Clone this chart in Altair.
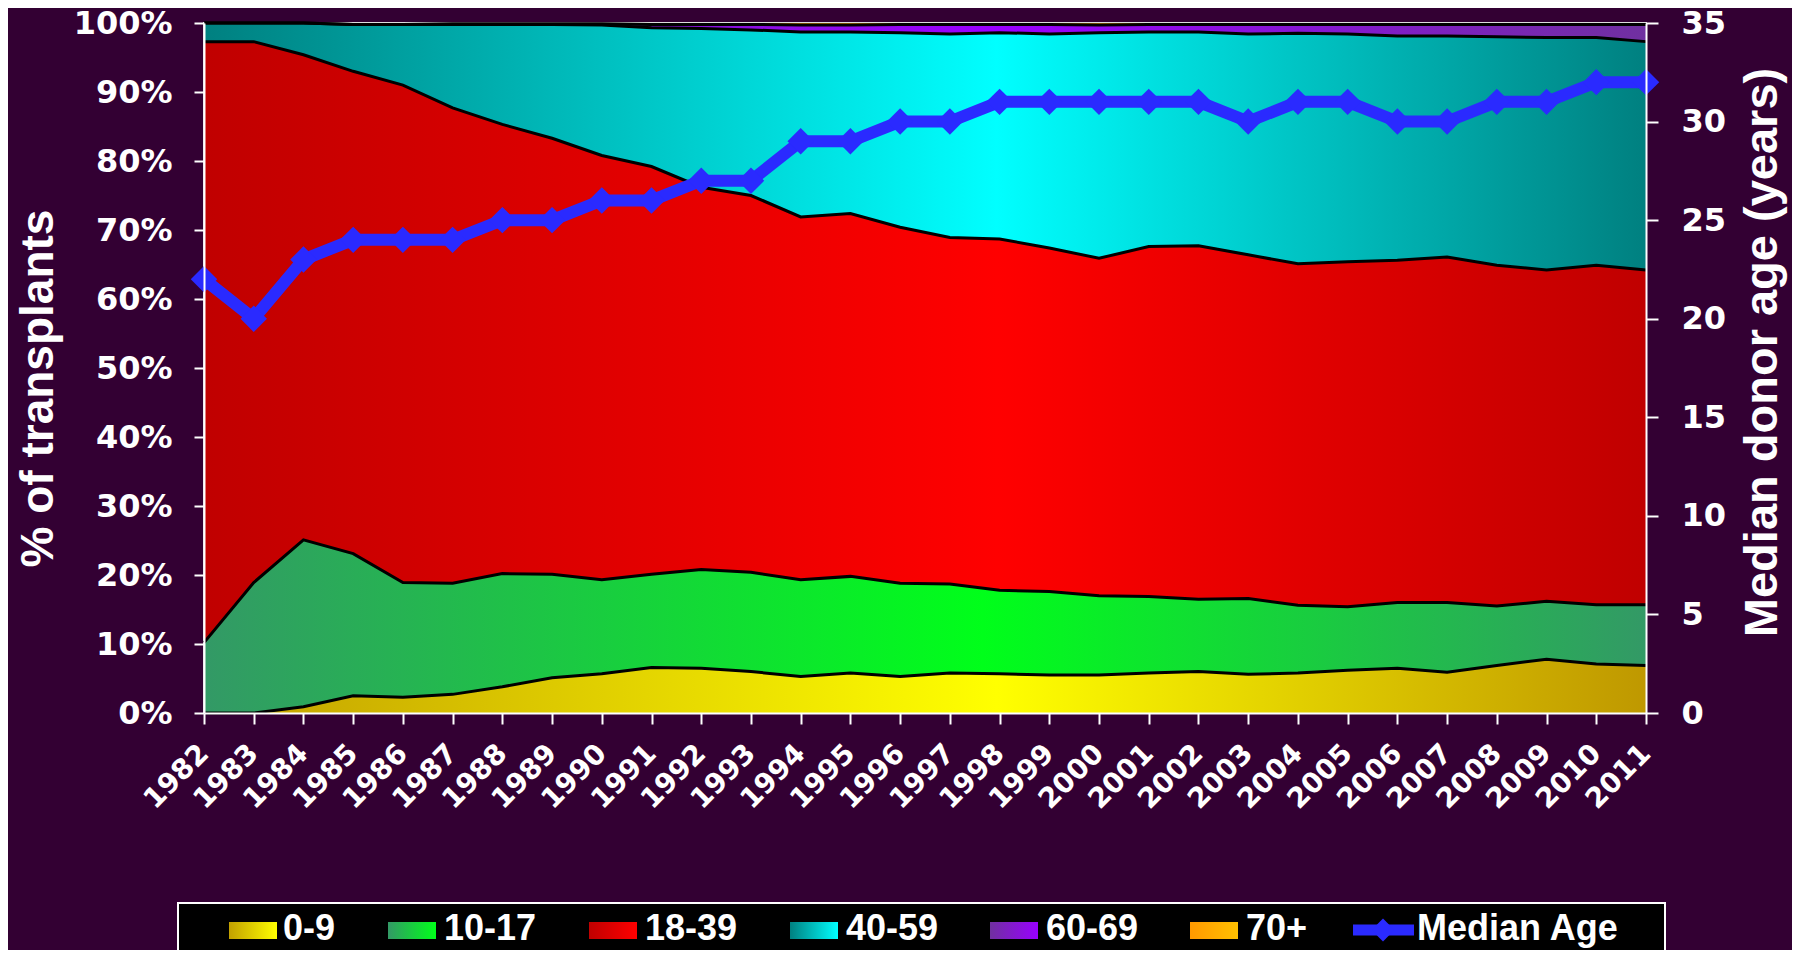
import altair as alt
import pandas as pd

years = list(range(1982, 2012))
age_groups = ["0-9", "10-17", "18-39", "40-59", "60-69", "70+"]

pct_0_9 = [0.0, 0.0, 0.9, 2.5, 2.3, 2.7, 3.8, 5.1, 5.7, 6.6, 6.5, 6.0, 5.3, 5.8, 5.3,
           5.8, 5.7, 5.5, 5.5, 5.8, 6.0, 5.6, 5.8, 6.2, 6.5, 5.9, 6.9, 7.8, 7.1, 6.9]
pct_10_17 = [10.2, 18.9, 24.2, 20.6, 16.6, 16.1, 16.4, 15.0, 13.6, 13.5, 14.3, 14.4, 14.0, 14.0, 13.5,
             12.9, 12.1, 12.1, 11.5, 11.1, 10.5, 11.0, 9.8, 9.2, 9.5, 10.1, 8.6, 8.4, 8.6, 8.8]
pct_18_39 = [87.1, 78.4, 70.3, 69.9, 72.1, 68.9, 65.1, 63.2, 61.5, 59.1, 55.4, 54.6, 52.6, 52.6, 51.6,
             50.2, 50.9, 49.8, 48.9, 50.7, 51.2, 49.8, 49.5, 50.0, 49.6, 50.1, 49.4, 48.0, 49.2, 48.5]
pct_40_59 = [2.7, 2.7, 4.6, 6.8, 8.8, 12.1, 14.5, 16.5, 18.9, 20.1, 23.0, 24.0, 26.8, 26.3, 28.2,
             29.5, 29.9, 31.0, 32.7, 31.1, 31.0, 32.0, 33.4, 33.0, 32.5, 32.0, 33.1, 33.7, 33.0, 33.1]
pct_60_69 = [0.0, 0.0, 0.0, 0.0, 0.0, 0.1, 0.1, 0.1, 0.2, 0.5, 0.6, 0.8, 1.0, 1.0, 1.2,
             1.4, 1.2, 1.4, 1.1, 1.1, 1.1, 1.4, 1.3, 1.4, 1.7, 1.7, 1.8, 1.9, 1.9, 2.5]
pct_70_plus = [0.0, 0.0, 0.0, 0.2, 0.2, 0.1, 0.1, 0.1, 0.1, 0.2, 0.2, 0.2, 0.3, 0.3, 0.2,
               0.2, 0.2, 0.2, 0.3, 0.2, 0.2, 0.2, 0.2, 0.2, 0.2, 0.2, 0.2, 0.2, 0.2, 0.2]
median_age = [22, 20, 23, 24, 24, 24, 25, 25, 26, 26, 27, 27, 29, 29, 30,
              30, 31, 31, 31, 31, 31, 30, 31, 31, 30, 30, 31, 31, 32, 32]

legend_labels = ["0-9", "10-17", "18-39", "40-59", "60-69", "70+", "Median Age"]

series = [pct_0_9, pct_10_17, pct_18_39, pct_40_59, pct_60_69, pct_70_plus]
rows = []
for i, yr in enumerate(years):
    for k, (g, vals) in enumerate(zip(age_groups, series)):
        rows.append({"year": yr, "group": g, "order": k, "pct": vals[i]})
long_df = pd.DataFrame(rows)
med_df = pd.DataFrame({"year": years, "median": median_age})

BG = "#330033"
BLUE = "#2A2AFF"
TICK_FONT = "DejaVu Sans"
TITLE_FONT = "Liberation Sans"


def grad(stops):
    return alt.Gradient(
        gradient="linear",
        stops=[alt.GradientStop(offset=o, color=c) for o, c in stops],
        x1=0, x2=1, y1=0, y2=0,
    )


area_fills = {
    "0-9": [(0, "#C2A000"), (0.55, "#FFFF00"), (1, "#BF9800")],
    "10-17": [(0, "#339966"), (0.54, "#00FF1A"), (1, "#339966")],
    "18-39": [(0, "#C00000"), (0.55, "#FF0000"), (1, "#C00000")],
    "40-59": [(0, "#008080"), (0.55, "#00FFFF"), (1, "#008080")],
    "60-69": [(0, "#7030A0"), (0.55, "#9900FF"), (1, "#7030A0")],
    "70+": [(0, "#B06000"), (0.55, "#FFA500"), (1, "#B06000")],
}
legend_fills = {
    "0-9": [(0, "#C2A000"), (1, "#FFFF00")],
    "10-17": [(0, "#339966"), (1, "#00FF1A")],
    "18-39": [(0, "#C00000"), (1, "#FF0000")],
    "40-59": [(0, "#008080"), (1, "#00FFFF")],
    "60-69": [(0, "#7030A0"), (1, "#9900FF")],
    "70+": [(0, "#FF9900"), (1, "#FFC000")],
}

x_axis = alt.Axis(
    values=years, format="d", labelAngle=-45, labelAlign="right", labelBaseline="middle",
    labelFont=TICK_FONT, labelFontSize=28, labelFontWeight="bold", labelColor="white",
    labelPadding=25, labelFlush=False, labelOverlap=False,
    domainColor="white", domainWidth=2, tickColor="white", tickWidth=2, tickSize=11,
    grid=False, title=None, zindex=1,
)
y_left_axis = alt.Axis(
    values=list(range(0, 101, 10)), labelExpr="datum.value + '%'",
    labelFont=TICK_FONT, labelFontSize=32, labelFontWeight="bold", labelColor="white",
    labelPadding=22, labelOverlap=False, labelFlush=False,
    domainColor="white", domainWidth=2, tickColor="white", tickWidth=2, tickSize=10,
    grid=False, zindex=1,
    title="% of transplants", titleFont=TITLE_FONT, titleFontSize=46, titleFontWeight="bold",
    titleColor="white", titleAngle=270, titleAlign="center", titleBaseline="middle",
    titleX=-166, titleY=365,
)
y_right_axis = alt.Axis(
    orient="right", values=list(range(0, 36, 5)),
    labelFont=TICK_FONT, labelFontSize=32, labelFontWeight="bold", labelColor="white",
    labelPadding=23, labelOverlap=False, labelFlush=False,
    domainColor="white", domainWidth=2, tickColor="white", tickWidth=2, tickSize=12,
    grid=False, zindex=1,
    title="Median donor age (years)", titleFont=TITLE_FONT, titleFontSize=47, titleFontWeight="bold",
    titleColor="white", titleAngle=270, titleAlign="center", titleBaseline="middle",
    titleX=116, titleY=329,
)

x_enc = alt.X("year:Q", scale=alt.Scale(domain=[1982, 2011], nice=False, zero=False), axis=x_axis)
y_scale = alt.Scale(domain=[0, 100], nice=False, zero=True)

base = alt.Chart(long_df).transform_stack(
    stack="pct", groupby=["year"], sort=[alt.SortField("order", order="ascending")], as_=["y0", "y1"]
)

areas = []
for g in age_groups:
    areas.append(
        base.transform_filter(alt.datum.group == g)
        .mark_area(fill=grad(area_fills[g]), strokeWidth=0)
        .encode(x=x_enc, y=alt.Y("y1:Q", scale=y_scale, axis=y_left_axis), y2="y0:Q")
    )

boundaries = (
    base.transform_filter(alt.datum.group != "70+")
    .mark_line(color="black", strokeWidth=3)
    .encode(x=x_enc, y=alt.Y("y1:Q", scale=y_scale, axis=y_left_axis), detail="group:N")
)

# custom legend
legend_layers = [
    alt.Chart(pd.DataFrame({"k": [0]})).mark_rect(fill="black", stroke="white", strokeWidth=2).encode(
        x=alt.value(-26), x2=alt.value(1461), y=alt.value(880), y2=alt.value(928)
    )
]
sym_x = [25, 184, 385, 586, 786, 986]
txt_x = [79, 240, 441, 642, 842, 1042, 1213]
for g, sx in zip(age_groups, sym_x):
    legend_layers.append(
        alt.Chart(pd.DataFrame({"k": [0]})).mark_rect(fill=grad(legend_fills[g])).encode(
            x=alt.value(sx), x2=alt.value(sx + 48), y=alt.value(899), y2=alt.value(916)
        )
    )
legend_layers.append(
    alt.Chart(pd.DataFrame({"k": [0]})).mark_rule(color=BLUE, strokeWidth=11).encode(
        x=alt.value(1149), x2=alt.value(1210), y=alt.value(907)
    )
)
legend_layers.append(
    alt.Chart(pd.DataFrame({"k": [0]})).mark_point(shape="diamond", size=520, filled=True, color=BLUE, opacity=1).encode(
        x=alt.value(1179), y=alt.value(907)
    )
)
for lab, tx in zip(legend_labels, txt_x):
    legend_layers.append(
        alt.Chart(pd.DataFrame({"label": [lab]})).mark_text(
            align="left", baseline="middle", font=TITLE_FONT, fontSize=36, fontWeight="bold", color="white"
        ).encode(x=alt.value(tx), y=alt.value(906), text="label:N")
    )

median_line = alt.Chart(med_df).mark_line(
    color=BLUE, strokeWidth=12,
    point=alt.OverlayMarkDef(shape="diamond", size=700, filled=True, color=BLUE, opacity=1),
).encode(
    x=x_enc,
    y=alt.Y("median:Q", scale=alt.Scale(domain=[0, 35], nice=False, zero=True), axis=y_right_axis),
)

chart = (
    alt.layer(alt.layer(*areas, boundaries, *legend_layers), median_line)
    .resolve_scale(y="independent")
    .properties(
        width=1442, height=690,
        autosize=alt.AutoSizeParams(type="none"),
        padding={"left": 196, "top": 15, "right": 146, "bottom": 237},
        background=BG,
    )
    .configure_view(stroke="#DDDDDD", strokeWidth=2)
)

chart.save("out.html", embed_options={"renderer": "svg", "actions": False})
